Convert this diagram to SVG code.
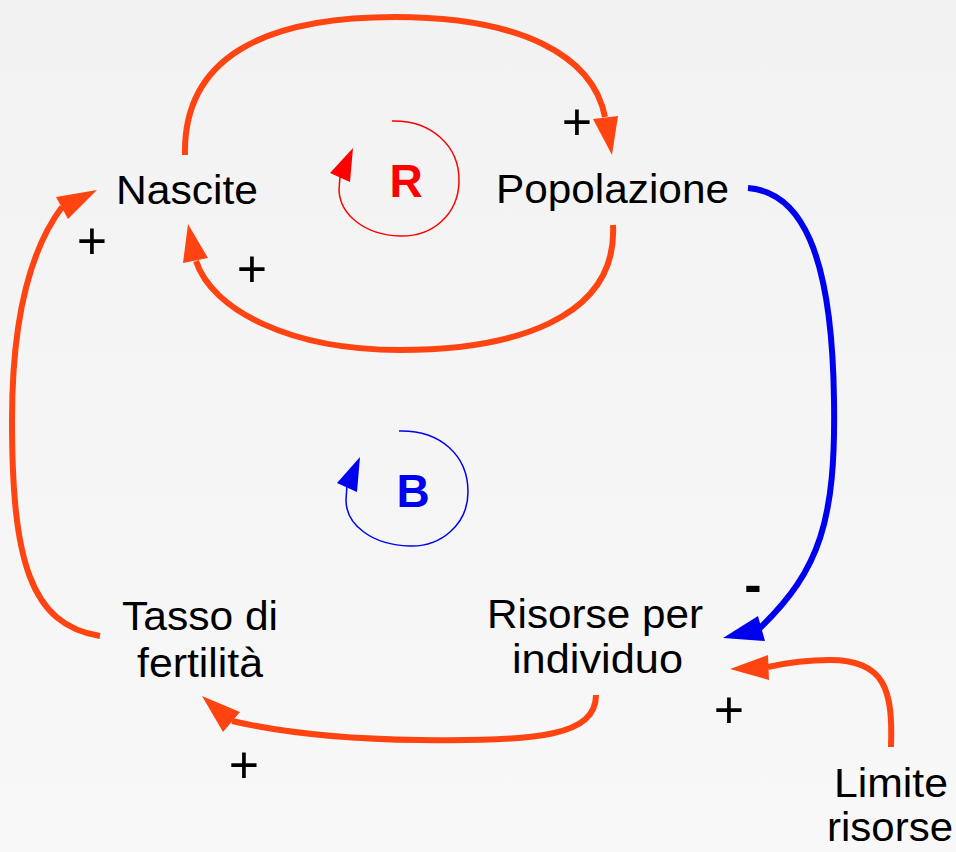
<svg xmlns="http://www.w3.org/2000/svg" width="956" height="852" viewBox="0 0 956 852">
<defs>
<linearGradient id="bg" x1="0" y1="0" x2="0" y2="1">
<stop offset="0" stop-color="#f2f2f2"/>
<stop offset="1" stop-color="#f8f8f8"/>
</linearGradient>
<style>
.lbl{font-family:"Liberation Sans",Arial,sans-serif;font-size:40px;fill:#000}
.sign{font-family:"Liberation Sans",Arial,sans-serif;font-size:52px;fill:#000;text-anchor:middle}
.minus{font-family:"Liberation Sans",Arial,sans-serif;font-size:52px;font-weight:bold;fill:#000;text-anchor:middle}
.or{fill:none;stroke:#ff4411;stroke-width:6}
.bl{fill:none;stroke:#0000f0;stroke-width:6}
.orh{fill:#ff4411}
.blh{fill:#0000f0}
.loopR{fill:none;stroke:#ff0000;stroke-width:1.5}
.loopB{fill:none;stroke:#0000f0;stroke-width:1.5}
.tag{font-family:"Liberation Sans",Arial,sans-serif;font-size:46px;font-weight:bold;text-anchor:middle}
</style>
</defs>
<rect width="956" height="852" fill="url(#bg)"/>

<g id="connectors">
<path class="or" d="M185,155 C183,60 260,17 395,17 C520,17 593,55 605,117"/>
<polygon class="orh" points="593,119 618,116 612,155"/>
<path class="or" d="M613,225 C618,320 510,350 400,350 C290,350 212,310 196,261"/>
<polygon class="orh" points="183,263 208,258 188,224"/>
<path class="or" d="M100,636 C30,625 12,560 12,420 C12,320 30,250 62,207"/>
<polygon class="orh" points="56,197 68,219 97,190"/>
<path class="bl" d="M748,188 C800,192 832,250 834,400 C836,520 820,570 760,628"/>
<polygon class="blh" points="765,641 758,616 723,638"/>
<path class="or" d="M596,695 C596,735 540,742 420,740 C340,739 280,732 232,721"/>
<polygon class="orh" points="240,712 223,732 202,696"/>
<path class="or" d="M891,747 C893,690 885,660 830,660 C805,660 790,662 768,667"/>
<polygon class="orh" points="768,655 769,680 730,669"/>
</g>

<g id="signs">
<text class="sign" x="577" y="140">+</text>
<text class="sign" x="92" y="259">+</text>
<text class="sign" x="252" y="287">+</text>
<text class="sign" x="729" y="728">+</text>
<text class="sign" x="244" y="783">+</text>
<text class="minus" x="753" y="602">-</text>
</g>

<g id="loop-R">
<path class="loopR" d="M392,121 C430,120 460,145 459,182 C458,215 432,237 400,236 C365,235 340,215 339,190 L340,176"/>
<polygon fill="#ff0000" points="353,148 330,173 350,182"/>
<text class="tag" x="406" y="197" fill="#ff0000">R</text>
</g>

<g id="loop-B">
<path class="loopB" d="M399,431 C440,430 468,455 468,492 C468,525 440,547 410,546 C372,545 346,525 346,500 L347,485"/>
<polygon fill="#0000f0" points="360,457 337,483 357,492"/>
<text class="tag" x="413" y="507" fill="#0000f0">B</text>
</g>

<g id="nascite"><text class="lbl" x="116" y="204" textLength="142" lengthAdjust="spacingAndGlyphs">Nascite</text></g>
<g id="popolazione"><text class="lbl" x="496" y="203" textLength="233" lengthAdjust="spacingAndGlyphs">Popolazione</text></g>
<g id="tasso">
<text class="lbl" x="122" y="630" textLength="156" lengthAdjust="spacingAndGlyphs">Tasso di</text>
<text class="lbl" x="137" y="677" textLength="126" lengthAdjust="spacingAndGlyphs">fertilità</text>
</g>
<g id="risorse">
<text class="lbl" x="487" y="628" textLength="216" lengthAdjust="spacingAndGlyphs">Risorse per</text>
<text class="lbl" x="512" y="673" textLength="171" lengthAdjust="spacingAndGlyphs">individuo</text>
</g>
<g id="limite">
<text class="lbl" x="834" y="797" textLength="114" lengthAdjust="spacingAndGlyphs">Limite</text>
<text class="lbl" x="827" y="841" textLength="126" lengthAdjust="spacingAndGlyphs">risorse</text>
</g>
</svg>
